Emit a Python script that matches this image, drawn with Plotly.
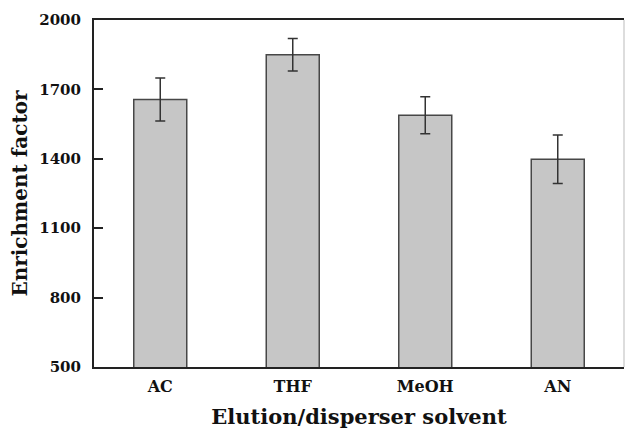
import plotly.graph_objects as go

categories = ["AC", "THF", "MeOH", "AN"]
values = [1656, 1850, 1588, 1398]
errors = [93, 70, 80, 105]
y_ticks = [500, 800, 1100, 1400, 1700, 2000]

fig = go.Figure()
fig.add_trace(go.Bar(
    x=categories, y=values, width=0.4,
    marker=dict(color="#c6c6c6", line=dict(color="#474747", width=1.5)),
    error_y=dict(type="data", array=errors, visible=True, color="#333333", thickness=1.5, width=5),
))

font = "DejaVu Serif, Liberation Serif, serif"
fig.update_layout(
    width=625, height=431,
    margin=dict(l=94, r=1, t=20, b=64),
    paper_bgcolor="white", plot_bgcolor="white",
    showlegend=False,
    font=dict(family=font, color="#111111"),
    xaxis=dict(
        range=[-0.5, 3.5], showline=True, linecolor="#222222", linewidth=2, mirror=True,
        ticks="", tickfont=dict(size=16, family=font, weight="bold"), ticklabelstandoff=4,
        title=dict(text="<b>Elution/disperser solvent</b>", font=dict(size=21, family=font), standoff=14),
        showgrid=False, automargin=False,
    ),
    yaxis=dict(
        range=[500, 2000], tickvals=y_ticks, showline=True, linecolor="#222222", linewidth=2,
        ticks="inside", ticklen=9, tickwidth=2, tickcolor="#222222",
        tickfont=dict(size=15, family=font, weight="bold"), ticklabelstandoff=8,
        title=dict(text="<b>Enrichment factor</b>", font=dict(size=20, family=font), standoff=6),
        showgrid=False, zeroline=False, automargin=False,
    ),
)
fig.add_shape(type="line", xref="paper", yref="paper", x0=1, x1=1, y0=0, y1=1,
              line=dict(color="#bbbbbb", width=1))
fig.write_html(
    "out.html",
    config={"displayModeBar": False},
    post_script="document.body.style.margin='0';document.body.style.overflow='hidden';"
                "document.documentElement.style.overflow='hidden';",
)
